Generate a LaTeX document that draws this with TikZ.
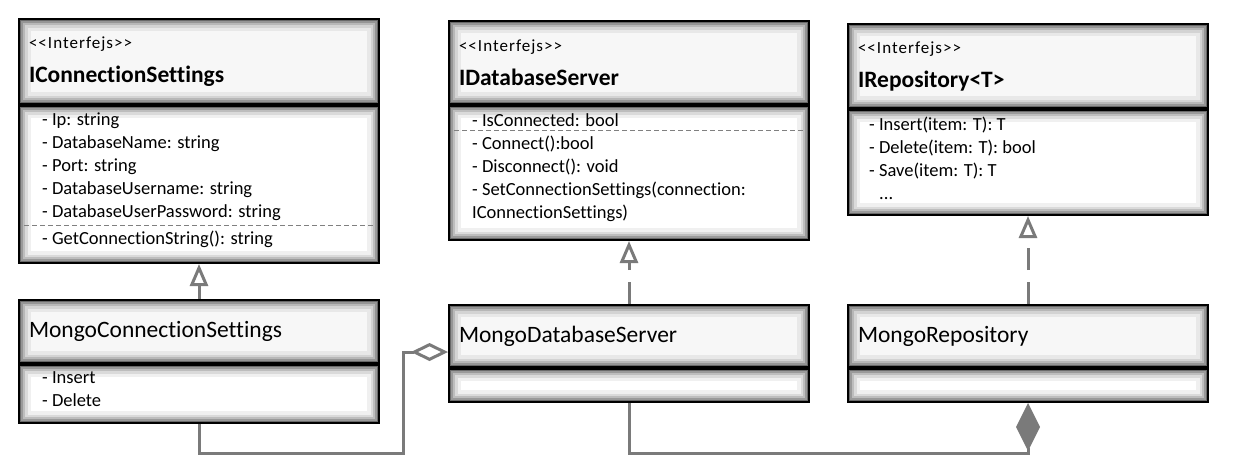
\documentclass[tikz,border=0pt]{standalone}
\usepackage{fontspec}
\setmainfont{Carlito}[Ligatures=NoCommon]
\usetikzlibrary{positioning, arrows.meta, calc}

\begin{document}
\begin{tikzpicture}[
    x=1pt, y=-1pt,
    box/.style={rectangle, draw=black, line width=2pt, minimum width=360pt,
                inner sep=0pt, anchor=north west,
                path picture={
                  \foreach \w/\o in {24/0.06, 17/0.09, 12/0.13, 8/0.18, 4/0.3}
                    \draw[line width=\w pt, black, opacity=\o]
                      (path picture bounding box.south west) rectangle
                      (path picture bounding box.north east);}},
    head/.style={box, fill=gray!6, text width=340pt, align=left,
                 font=\fontsize{23.5}{27}\selectfont},
    body/.style={box, fill=white},
    members/.style={inner sep=0pt, align=left, font=\fontsize{18.5}{23}\selectfont},
    sep/.style={draw=black!50, line width=1.6pt, dash pattern=on 5pt off 3pt},
    link/.style={draw=black!52, line width=3pt},
    realize/.style={link, dash pattern=on 22pt off 12pt},
    hollow/.style={-{Triangle[open, length=22pt, width=18pt]}}
]
    \useasboundingbox (0,0) rectangle (1233,475);

    % Interface IConnectionSettings
    \node[head, minimum height=85pt] (icsHead) at (18,18)
        {{\fontsize{17}{20}\selectfont\addfontfeatures{LetterSpace=6} <{}<Interfejs>{}>}\\[7pt] \textbf{IConnectionSettings}};
    \node[body, minimum height=157pt, below=0pt of icsHead] (icsBody) {};
    \node[members, below right=8pt and 24pt of icsBody.north west] (icsAttr)
        {- Ip: string\\- DatabaseName: string\\- Port: string\\- DatabaseUsername: string\\- DatabaseUserPassword: string};
    \node[members, below right=9pt and 0pt of icsAttr.south west] (icsOps)
        {- GetConnectionString(): string};
    \path (icsAttr.south) -- (icsOps.north) coordinate[pos=0.45] (icsCut);
    \draw[sep] ([xshift=6pt]icsBody.west |- icsCut) -- ([xshift=-6pt]icsBody.east |- icsCut);

    % Interface IDatabaseServer
    \node[head, minimum height=83pt] (idsHead) at (448,20)
        {{\fontsize{17}{20}\selectfont\addfontfeatures{LetterSpace=6} <{}<Interfejs>{}>}\\[7pt] \textbf{IDatabaseServer}};
    \node[body, minimum height=134pt, below=0pt of idsHead] (idsBody) {};
    \node[members, below right=8pt and 24pt of idsBody.north west] (idsAttr)
        {- IsConnected: bool};
    \node[members, below right=9pt and 0pt of idsAttr.south west] (idsOps)
        {- Connect():bool\\- Disconnect(): void\\- SetConnectionSettings(connection:\\IConnectionSettings)};
    \path (idsAttr.south) -- (idsOps.north) coordinate[pos=0.45] (idsCut);
    \draw[sep] ([xshift=6pt]idsBody.west |- idsCut) -- ([xshift=-6pt]idsBody.east |- idsCut);

    % Interface IRepository<T>
    \node[head, minimum height=84pt] (irpHead) at (847,23)
        {{\fontsize{17}{20}\selectfont\addfontfeatures{LetterSpace=6} <{}<Interfejs>{}>}\\[7pt] \textbf{IRepository<T>}};
    \node[body, minimum height=105pt, below=0pt of irpHead] (irpBody) {};
    \node[members, below right=8pt and 22pt of irpBody.north west] (irpOps)
        {- Insert(item: T): T\\- Delete(item: T): bool\\- Save(item: T): T\\\hspace*{10pt}...};

    % Class MongoConnectionSettings
    \node[head, minimum height=63pt] (mcsHead) at (18,299) {MongoConnectionSettings};
    \node[body, minimum height=58pt, below=0pt of mcsHead] (mcsBody) {};
    \node[members, below right=7pt and 24pt of mcsBody.north west] (mcsOps)
        {- Insert\\- Delete};

    % Class MongoDatabaseServer
    \node[head, minimum height=62pt] (mdsHead) at (448,304) {MongoDatabaseServer};
    \node[body, minimum height=33pt, below=0pt of mdsHead] (mdsBody) {};

    % Class MongoRepository
    \node[head, minimum height=62pt] (mrpHead) at (847,304) {MongoRepository};
    \node[body, minimum height=33pt, below=0pt of mrpHead] (mrpBody) {};

    % Generalization and realizations
    \draw[link, hollow] (mcsHead) -- (icsBody);
    \draw[realize, hollow] (mdsHead) -- (idsBody);
    \draw[realize, hollow] (mrpHead) -- (irpBody);

    % Aggregation
    \draw[link, -{Diamond[open, length=37pt, width=18pt]}] (mcsBody.south) -- ++(0,29)
        -| ([xshift=-45pt, yshift=-16pt]mdsHead.west) -- ([yshift=-16pt]mdsHead.west);

    % Composition
    \draw[link, -{Diamond[length=48pt, width=24pt]}] (mdsBody.south) -- ++(0,50) -| (mrpBody.south);

\end{tikzpicture}
\end{document}
